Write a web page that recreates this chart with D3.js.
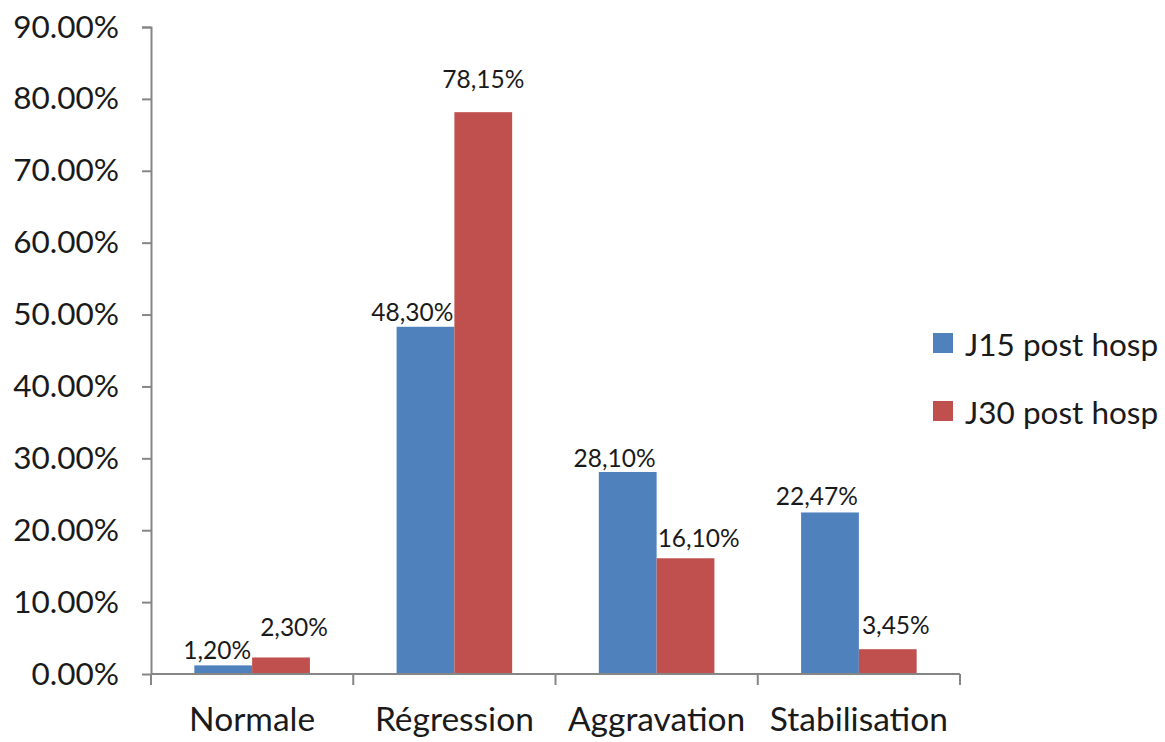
<!DOCTYPE html>
<html>
<head>
<meta charset="utf-8">
<script src="https://cdn.jsdelivr.net/npm/d3@7"></script>
<style>
  html, body { margin: 0; padding: 0; background: #fff; }
  svg { display: block; font-family: Lato, "Open Sans", sans-serif; }
</style>
</head>
<body>
<svg id="chart" width="1165" height="742"></svg>
<script>
// Évolution à J15 et J30 post hospitalisation
const categories = ["Normale", "Régression", "Aggravation", "Stabilisation"];
const seriesNames = ["J15 post hosp", "J30 post hosp"];
const j15Values = [1.20, 48.30, 28.10, 22.47];
const j30Values = [2.30, 78.15, 16.10, 3.45];
const yTicks = [0, 10, 20, 30, 40, 50, 60, 70, 80, 90];

const colors = ["#4F81BD", "#C0504D"];
const axisColor = "#868686";
const textColor = "#1a1a1a";

const svg = d3.select("#chart");
const margin = { left: 151, right: 205, top: 27, bottom: 68 };
const W = 1165, H = 742;
const plotW = W - margin.left - margin.right;
const plotH = H - margin.top - margin.bottom;

const g = svg.append("g").attr("transform", `translate(${margin.left},${margin.top})`);

const x = d3.scaleBand().domain(categories).range([0, plotW]).paddingInner(0).paddingOuter(0);
const y = d3.scaleLinear().domain([0, 90]).range([plotH, 0]);

// bar width: Excel-style gap width of 150%
const barW = x.bandwidth() / (2 + 1.5);
const x1 = d3.scaleBand().domain([0, 1]).range([x.bandwidth() / 2 - barW, x.bandwidth() / 2 + barW]).padding(0);

const fmtLabel = v => v.toFixed(2).replace(".", ",") + "%";
const fmtTick = v => v.toFixed(2) + "%";

const data = categories.map((c, i) => ({ cat: c, vals: [j15Values[i], j30Values[i]] }));

// bars
const groups = g.selectAll("g.cat").data(data).join("g")
  .attr("class", "cat")
  .attr("transform", d => `translate(${x(d.cat)},0)`);

groups.selectAll("rect").data(d => d.vals.map((v, s) => ({ v, s }))).join("rect")
  .attr("x", d => x1(d.s))
  .attr("width", x1.bandwidth())
  .attr("y", d => y(d.v))
  .attr("height", d => plotH - y(d.v))
  .attr("fill", d => colors[d.s]);

// value labels: J15 ends at the right of its bar, J30 starts at the left of its bar
const labelGap = [[6, 21], [6, 24], [5, 11], [7, 15]];
const redShift = [8, 0, 1, 3];
groups.selectAll("text.val").data((d, i) => d.vals.map((v, s) => ({ v, s, i }))).join("text")
  .attr("class", "val")
  .attr("x", d => {
    if (d.s === 0) return x1(0) + x1.bandwidth() - 1;
    if (d.i === 1) return x1(1) + x1.bandwidth() / 2;
    return x1(1) + redShift[d.i];
  })
  .attr("text-anchor", d => d.s === 0 ? "end" : (d.i === 1 ? "middle" : "start"))
  .attr("y", d => y(d.v) - labelGap[d.i][d.s])
  .attr("font-size", 24.5)
  .attr("fill", textColor)
  .text(d => fmtLabel(d.v));

// y axis
const yAxis = d3.axisLeft(y).tickValues(yTicks).tickSize(9).tickPadding(23).tickFormat(fmtTick);
const ya = g.append("g").call(yAxis);
ya.select(".domain").attr("stroke", axisColor).attr("stroke-width", 2).attr("d", `M-9,0.5H0.5V${plotH}`);
ya.selectAll(".tick line").attr("stroke", axisColor).attr("stroke-width", 2);
ya.selectAll(".tick text").attr("font-size", 31.5).attr("fill", textColor).attr("font-family", "Lato, sans-serif");

// x axis with tick marks at category boundaries
const xa = g.append("g").attr("transform", `translate(0,${plotH})`);
xa.append("line").attr("x1", 0).attr("x2", plotW).attr("y1", 0).attr("y2", 0)
  .attr("stroke", axisColor).attr("stroke-width", 2);
const bounds = categories.map(c => x(c)).concat([plotW]);
xa.selectAll("line.b").data(bounds).join("line")
  .attr("class", "b")
  .attr("x1", d => d).attr("x2", d => d)
  .attr("y1", 0).attr("y2", 11)
  .attr("stroke", axisColor).attr("stroke-width", 2);
xa.selectAll("text").data(categories).join("text")
  .attr("x", d => x(d) + x.bandwidth() / 2)
  .attr("y", 57)
  .attr("text-anchor", "middle")
  .attr("font-size", 33.5)
  .attr("fill", textColor)
  .text(d => d);

// legend
const legend = svg.append("g").attr("transform", "translate(933,333)");
const li = legend.selectAll("g").data(seriesNames).join("g")
  .attr("transform", (d, i) => `translate(0,${i * 68})`);
li.append("rect").attr("width", 20).attr("height", 20).attr("fill", (d, i) => colors[i]);
li.append("text").attr("x", 32).attr("y", 23).attr("font-size", 31.5).attr("fill", textColor).text(d => d);
</script>
</body>
</html>
